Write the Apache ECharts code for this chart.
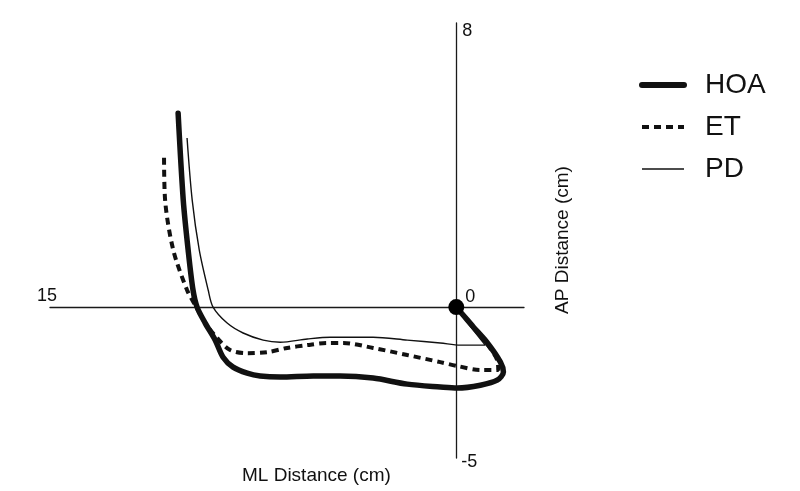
<!DOCTYPE html>
<html>
<head>
<meta charset="utf-8">
<script src="https://cdn.jsdelivr.net/npm/echarts@6/dist/echarts.min.js"></script>
<style>
  html, body { margin: 0; padding: 0; background: #ffffff; }
  #chart { width: 800px; height: 491px; }
</style>
</head>
<body>
<div id="chart"></div>
<script>
// ML distance (x, cm; positive to the left) and AP distance (y, cm)
var seriesNames = ['HOA', 'ET', 'PD'];

var hoaML = [0, -0.26, -0.63, -1.15, -1.63, -1.74, -1.51, -0.89, -0.04, 0.59, 1.81, 3.07, 4.29, 5.28, 6.50, 7.24, 7.72, 8.24, 8.61, 8.90, 9.27, 9.57, 9.72, 9.90, 10.08, 10.27];
var hoaAP = [0, -0.23, -0.56, -1.01, -1.55, -1.83, -2.06, -2.20, -2.28, -2.25, -2.17, -2.00, -1.94, -1.94, -1.97, -1.94, -1.86, -1.69, -1.41, -0.93, -0.45, 0, 0.48, 1.61, 3.01, 5.46];

var etML = [0, -0.59, -1.11, -1.51, -1.55, -0.89, -0.04, 0.59, 1.81, 3.07, 4.17, 4.77, 5.50, 6.24, 6.98, 7.72, 8.35, 8.83, 9.27, 9.60, 9.94, 10.45, 10.75, 10.79];
var etAP = [0, -0.54, -1.01, -1.49, -1.77, -1.77, -1.66, -1.55, -1.35, -1.15, -1.01, -1.01, -1.07, -1.15, -1.27, -1.30, -1.21, -0.87, -0.45, 0, 0.48, 1.61, 3.01, 4.28];

var pdML = [0, -0.52, -1.07, -0.15, 0.59, 1.81, 3.07, 4.29, 4.65, 5.50, 6.50, 7.13, 7.87, 8.46, 8.98, 9.16, 9.49, 9.75, 9.94];
var pdAP = [0, -0.54, -1.07, -1.07, -1.01, -0.93, -0.85, -0.85, -0.85, -0.90, -0.99, -0.93, -0.73, -0.45, 0, 0.48, 1.61, 3.01, 4.76];

// axis extents and end labels
var mlRange = [-2.5, 15];
var apRange = [-4.25, 8];
var mlTickValues = [15, 0];
var mlTickLabels = ['15', '0'];
var apTickValues = [8, -4.25];
var apTickLabels = ['8', '-5'];
var origin = [0, 0];

function pairs(xs, ys) {
  return xs.map(function (x, i) { return [x, ys[i]]; });
}

var ink = '#111111';
var font = 'Liberation Sans, Arial, sans-serif';
var chart = echarts.init(document.getElementById('chart'), null, { renderer: 'canvas' });

var tickLabelData = [
  { value: [mlTickValues[0], 0], label: { formatter: mlTickLabels[0], offset: [-3, -11] } },
  { value: [mlTickValues[1], 0], label: { formatter: mlTickLabels[1], offset: [14, -10] } },
  { value: [0, apTickValues[0]], label: { formatter: apTickLabels[0], offset: [11, 8] } },
  { value: [0, apTickValues[1]], label: { formatter: apTickLabels[1], offset: [13, 4] } }
];

var styles = {
  HOA: { color: ink, width: 6, type: 'solid' },
  ET: { color: ink, width: 4, type: [7, 5] },
  PD: { color: ink, width: 1.4, type: 'solid' }
};

chart.setOption({
  animation: false,
  backgroundColor: '#ffffff',
  textStyle: { fontFamily: font },
  grid: { left: 50, top: 23, width: 474, height: 435, containLabel: false },
  xAxis: {
    type: 'value', inverse: true, min: mlRange[0], max: mlRange[1],
    axisLine: { show: true, onZero: true, lineStyle: { color: '#1a1a1a', width: 1.3 } },
    axisTick: { show: false }, axisLabel: { show: false }, splitLine: { show: false }
  },
  yAxis: {
    type: 'value', min: apRange[0], max: apRange[1],
    axisLine: { show: true, onZero: true, lineStyle: { color: '#1a1a1a', width: 1.3 } },
    axisTick: { show: false }, axisLabel: { show: false }, splitLine: { show: false }
  },
  legend: {
    data: seriesNames.map(function (n) {
      return { name: n, lineStyle: styles[n], itemStyle: { opacity: 0 } };
    }),
    orient: 'vertical',
    left: 634, top: 66,
    itemWidth: 42, itemHeight: 14, itemGap: 14,
    textStyle: { fontSize: 28, color: ink, fontFamily: font, padding: [0, 0, 0, 16] }
  },
  graphic: [
    { type: 'text', left: 242, top: 466, style: { text: 'ML Distance (cm)', fontSize: 19, fill: ink, fontFamily: font } },
    { type: 'text', x: 563, y: 240, rotation: Math.PI / 2, style: { text: 'AP Distance (cm)', fontSize: 19, fill: ink, align: 'center', verticalAlign: 'middle', fontFamily: font } }
  ],
  series: [
    {
      name: 'PD', type: 'line', data: pairs(pdML, pdAP), smooth: 0.3, symbol: 'none',
      lineStyle: styles.PD, itemStyle: { color: ink }, z: 2
    },
    {
      name: 'ET', type: 'line', data: pairs(etML, etAP), smooth: 0.3, symbol: 'none',
      lineStyle: styles.ET, itemStyle: { color: ink }, z: 3
    },
    {
      name: 'HOA', type: 'line', data: pairs(hoaML, hoaAP), smooth: 0.3, symbol: 'none',
      lineStyle: { color: ink, width: 5.5, cap: 'round', join: 'round' }, itemStyle: { color: ink }, z: 4
    },
    {
      type: 'scatter', data: [origin], symbol: 'circle', symbolSize: 16,
      itemStyle: { color: '#000', opacity: 1 }, z: 5, silent: true
    },
    {
      type: 'scatter', data: tickLabelData, symbolSize: 1, silent: true, z: 6,
      itemStyle: { color: 'rgba(0,0,0,0)', opacity: 1 },
      label: { show: true, position: 'inside', fontSize: 18, color: ink, fontFamily: font }
    }
  ]
});
</script>
</body>
</html>
